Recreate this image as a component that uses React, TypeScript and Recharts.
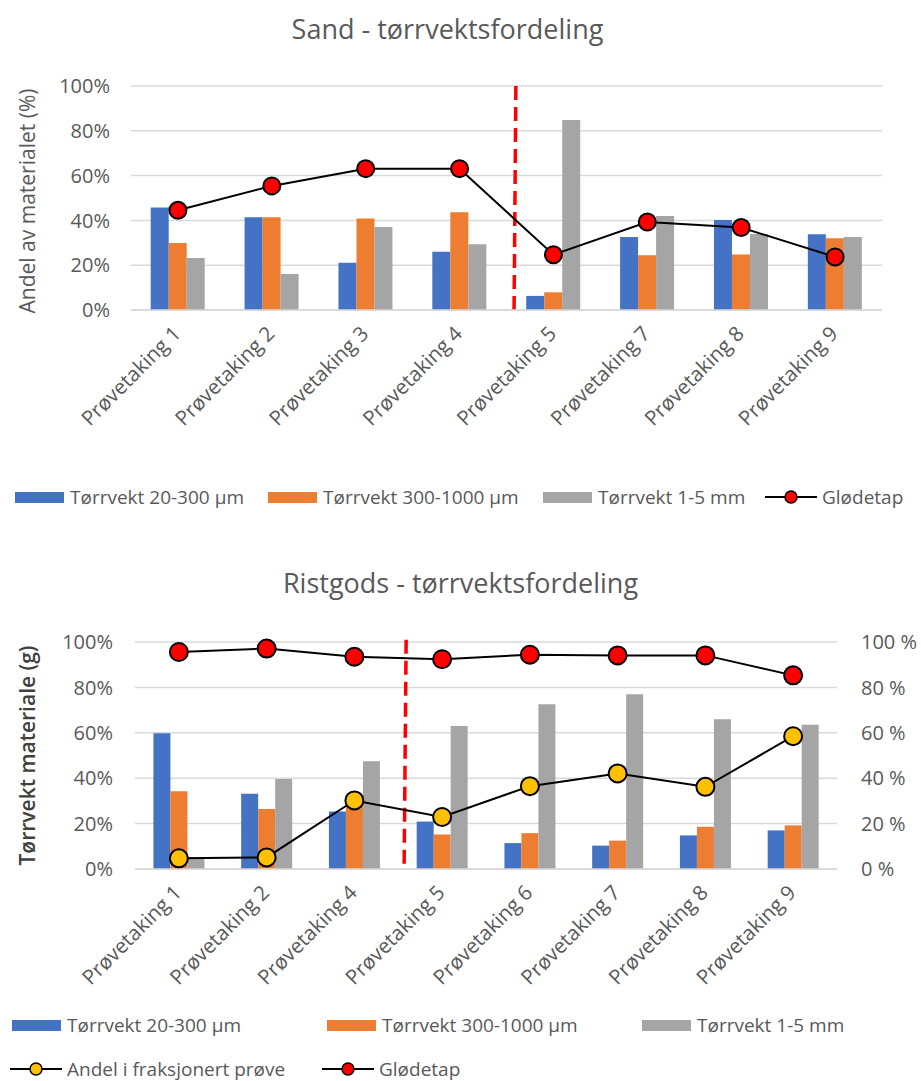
import React from 'react';
import { ComposedChart, Bar, Line, XAxis, YAxis, CartesianGrid, ReferenceLine } from 'recharts';

const FONT = '"Open Sans", "Noto Sans", sans-serif';
const TEXT = '#595959';
const BLUE = '#4472C4';
const ORANGE = '#ED7D31';
const GRAY = '#A5A5A5';

// Sand
const sandCategories = ['Prøvetaking 1', 'Prøvetaking 2', 'Prøvetaking 3', 'Prøvetaking 4', 'Prøvetaking 5', 'Prøvetaking 7', 'Prøvetaking 8', 'Prøvetaking 9'];
const sandFine = [0.458, 0.414, 0.211, 0.26, 0.063, 0.326, 0.402, 0.338];
const sandMid = [0.299, 0.414, 0.408, 0.436, 0.079, 0.244, 0.248, 0.32];
const sandCoarse = [0.232, 0.161, 0.37, 0.293, 0.848, 0.42, 0.339, 0.326];
const sandLoss = [0.445, 0.554, 0.631, 0.631, 0.247, 0.393, 0.368, 0.237];

// Ristgods
const ristCategories = ['Prøvetaking 1', 'Prøvetaking 2', 'Prøvetaking 4', 'Prøvetaking 5', 'Prøvetaking 6', 'Prøvetaking 7', 'Prøvetaking 8', 'Prøvetaking 9'];
const ristFine = [0.598, 0.331, 0.253, 0.209, 0.114, 0.103, 0.148, 0.17];
const ristMid = [0.343, 0.264, 0.28, 0.152, 0.158, 0.125, 0.186, 0.192];
const ristCoarse = [0.05, 0.397, 0.475, 0.63, 0.726, 0.77, 0.66, 0.636];
const ristShare = [0.047, 0.051, 0.302, 0.229, 0.365, 0.421, 0.362, 0.585];
const ristLoss = [0.956, 0.971, 0.935, 0.924, 0.944, 0.941, 0.941, 0.853];

const pctTicks = [0, 0.2, 0.4, 0.6, 0.8, 1];

// slot = category centre on a continuous 0..n scale, used to place the divider
const sandData = sandCategories.map((name, i) => ({
  name,
  slot: i + 0.5,
  fine: sandFine[i],
  mid: sandMid[i],
  coarse: sandCoarse[i],
  loss: sandLoss[i],
}));

const ristData = ristCategories.map((name, i) => ({
  name,
  slot: i + 0.5,
  fine: ristFine[i],
  mid: ristMid[i],
  coarse: ristCoarse[i],
  share: ristShare[i],
  loss: ristLoss[i],
}));

const SlantTick = (props: any) => {
  const { x, y, payload } = props;
  const ax = x + 4;
  const ay = y + 19;
  return (
    <text
      x={ax}
      y={ay}
      transform={`rotate(-45, ${ax}, ${ay})`}
      textAnchor="end"
      fill={TEXT}
      fontSize={20.5}
      fontFamily={FONT}
    >
      {payload.value}
    </text>
  );
};

const labelStyle: React.CSSProperties = {
  fontFamily: FONT,
  fontSize: 19,
  lineHeight: 1,
  color: TEXT,
  whiteSpace: 'nowrap',
};

const BoxKey = ({ color, label, left, top }: { color: string; label: string; left: number; top: number }) => (
  <div style={{ position: 'absolute', left, top, height: 20, display: 'flex', alignItems: 'center' }}>
    <div style={{ width: 49, height: 11, background: color, marginRight: 6 }} />
    <span style={labelStyle}>{label}</span>
  </div>
);

const LineKey = ({ color, label, left, top }: { color: string; label: string; left: number; top: number }) => (
  <div style={{ position: 'absolute', left, top, height: 20, display: 'flex', alignItems: 'center' }}>
    <svg width={52} height={16} style={{ marginRight: 5 }}>
      <line x1={0} y1={8} x2={52} y2={8} stroke="#000" strokeWidth={2} />
      <circle cx={26} cy={8} r={6} fill={color} stroke="#000" strokeWidth={1.5} />
    </svg>
    <span style={labelStyle}>{label}</span>
  </div>
);

const titleStyle: React.CSSProperties = {
  position: 'absolute',
  left: 0,
  width: 921,
  textAlign: 'center',
  fontFamily: FONT,
  fontSize: 27,
  color: TEXT,
};

const tickStyle = { fill: TEXT, fontSize: 20, fontFamily: FONT };

export default function App() {
  return (
    <div style={{ position: 'absolute', left: 0, top: 0, width: 921, height: 1081, background: '#fff' }}>
      <div style={{ ...titleStyle, top: 10, left: -13 }}>Sand - tørrvektsfordeling</div>
      <div style={{ position: 'absolute', left: 0, top: 0 }}>
        <ComposedChart
          width={921}
          height={480}
          data={sandData}
          margin={{ top: 86, right: 39, bottom: 50, left: 11 }}
          barCategoryGap="21%"
          barGap={0}
        >
          <CartesianGrid vertical={false} stroke="#d9d9d9" strokeWidth={1.5} />
          <XAxis
            dataKey="name"
            tick={<SlantTick />}
            tickLine={false}
            axisLine={{ stroke: '#d9d9d9', strokeWidth: 1.5 }}
            interval={0}
            height={120}
            tickMargin={0}
          />
          <XAxis xAxisId="pos" dataKey="slot" type="number" domain={[0, 8]} hide allowDataOverflow />
          <YAxis
            domain={[0, 1]}
            ticks={pctTicks}
            tickFormatter={(v: number) => `${Math.round(v * 100)}%`}
            tickLine={false}
            axisLine={false}
            tickMargin={15}
            width={120}
            tick={tickStyle}
            label={{
              value: 'Andel av materialet (%)',
              angle: -90,
              position: 'center',
              dx: -43,
              dy: 3,
              fill: TEXT,
              fontSize: 21,
              fontFamily: FONT,
            }}
          />
          <Bar dataKey="fine" fill={BLUE} isAnimationActive={false} />
          <Bar dataKey="mid" fill={ORANGE} isAnimationActive={false} />
          <Bar dataKey="coarse" fill={GRAY} isAnimationActive={false} />
          <ReferenceLine
            xAxisId="pos"
            segment={[{ x: 4.1, y: 1 }, { x: 4.08, y: -0.025 }]}
            stroke="#FF0000"
            strokeWidth={3.5}
            strokeDasharray="14 7"
            ifOverflow="visible"
          />
          <Line
            dataKey="loss"
            stroke="#000"
            strokeWidth={2}
            dot={{ r: 8.5, fill: '#FF0000', stroke: '#000', strokeWidth: 2 }}
            isAnimationActive={false}
          />
        </ComposedChart>
      </div>
      <BoxKey color={BLUE} label="Tørrvekt 20-300 µm" left={15} top={487} />
      <BoxKey color={ORANGE} label="Tørrvekt 300-1000 µm" left={268} top={487} />
      <BoxKey color={GRAY} label="Tørrvekt 1-5 mm" left={543} top={487} />
      <LineKey color="#FF0000" label="Glødetap" left={765} top={487} />

      <div style={{ ...titleStyle, top: 564 }}>Ristgods - tørrvektsfordeling</div>
      <div style={{ position: 'absolute', left: 0, top: 540 }}>
        <ComposedChart
          width={921}
          height={450}
          data={ristData}
          margin={{ top: 102, right: 14, bottom: 1, left: 15 }}
          barCategoryGap="21%"
          barGap={0}
        >
          <CartesianGrid vertical={false} stroke="#d9d9d9" strokeWidth={1.5} />
          <XAxis
            dataKey="name"
            tick={<SlantTick />}
            tickLine={false}
            axisLine={{ stroke: '#d9d9d9', strokeWidth: 1.5 }}
            interval={0}
            height={120}
            tickMargin={0}
          />
          <XAxis xAxisId="pos" dataKey="slot" type="number" domain={[0, 8]} hide allowDataOverflow />
          <YAxis
            domain={[0, 1]}
            ticks={pctTicks}
            tickFormatter={(v: number) => `${Math.round(v * 100)}%`}
            tickLine={false}
            axisLine={false}
            tickMargin={16}
            width={120}
            tick={tickStyle}
            label={{
              value: 'Tørrvekt materiale (g)',
              angle: -90,
              position: 'center',
              dx: -47,
              fill: '#404040',
              fontSize: 21,
              fontWeight: 600,
              fontFamily: FONT,
            }}
          />
          <YAxis
            yAxisId="right"
            orientation="right"
            domain={[0, 1]}
            ticks={pctTicks}
            tickFormatter={(v: number) => `${Math.round(v * 100)} %`}
            tickLine={false}
            axisLine={false}
            tickMargin={18}
            width={70}
            tick={tickStyle}
          />
          <Bar dataKey="fine" fill={BLUE} isAnimationActive={false} />
          <Bar dataKey="mid" fill={ORANGE} isAnimationActive={false} />
          <Bar dataKey="coarse" fill={GRAY} isAnimationActive={false} />
          <ReferenceLine
            xAxisId="pos"
            segment={[{ x: 3.09, y: 1.01 }, { x: 3.067, y: 0.012 }]}
            stroke="#FF0000"
            strokeWidth={3.5}
            strokeDasharray="14 7"
            ifOverflow="visible"
          />
          <Line
            yAxisId="right"
            dataKey="share"
            stroke="#000"
            strokeWidth={2}
            dot={{ r: 9, fill: '#FFC000', stroke: '#000', strokeWidth: 2 }}
            isAnimationActive={false}
          />
          <Line
            yAxisId="right"
            dataKey="loss"
            stroke="#000"
            strokeWidth={2}
            dot={{ r: 9, fill: '#FF0000', stroke: '#000', strokeWidth: 2 }}
            isAnimationActive={false}
          />
        </ComposedChart>
      </div>
      <BoxKey color={BLUE} label="Tørrvekt 20-300 µm" left={12} top={1015} />
      <BoxKey color={ORANGE} label="Tørrvekt 300-1000 µm" left={327} top={1015} />
      <BoxKey color={GRAY} label="Tørrvekt 1-5 mm" left={642} top={1015} />
      <LineKey color="#FFC000" label="Andel i fraksjonert prøve" left={10} top={1059} />
      <LineKey color="#FF0000" label="Glødetap" left={322} top={1059} />
    </div>
  );
}
